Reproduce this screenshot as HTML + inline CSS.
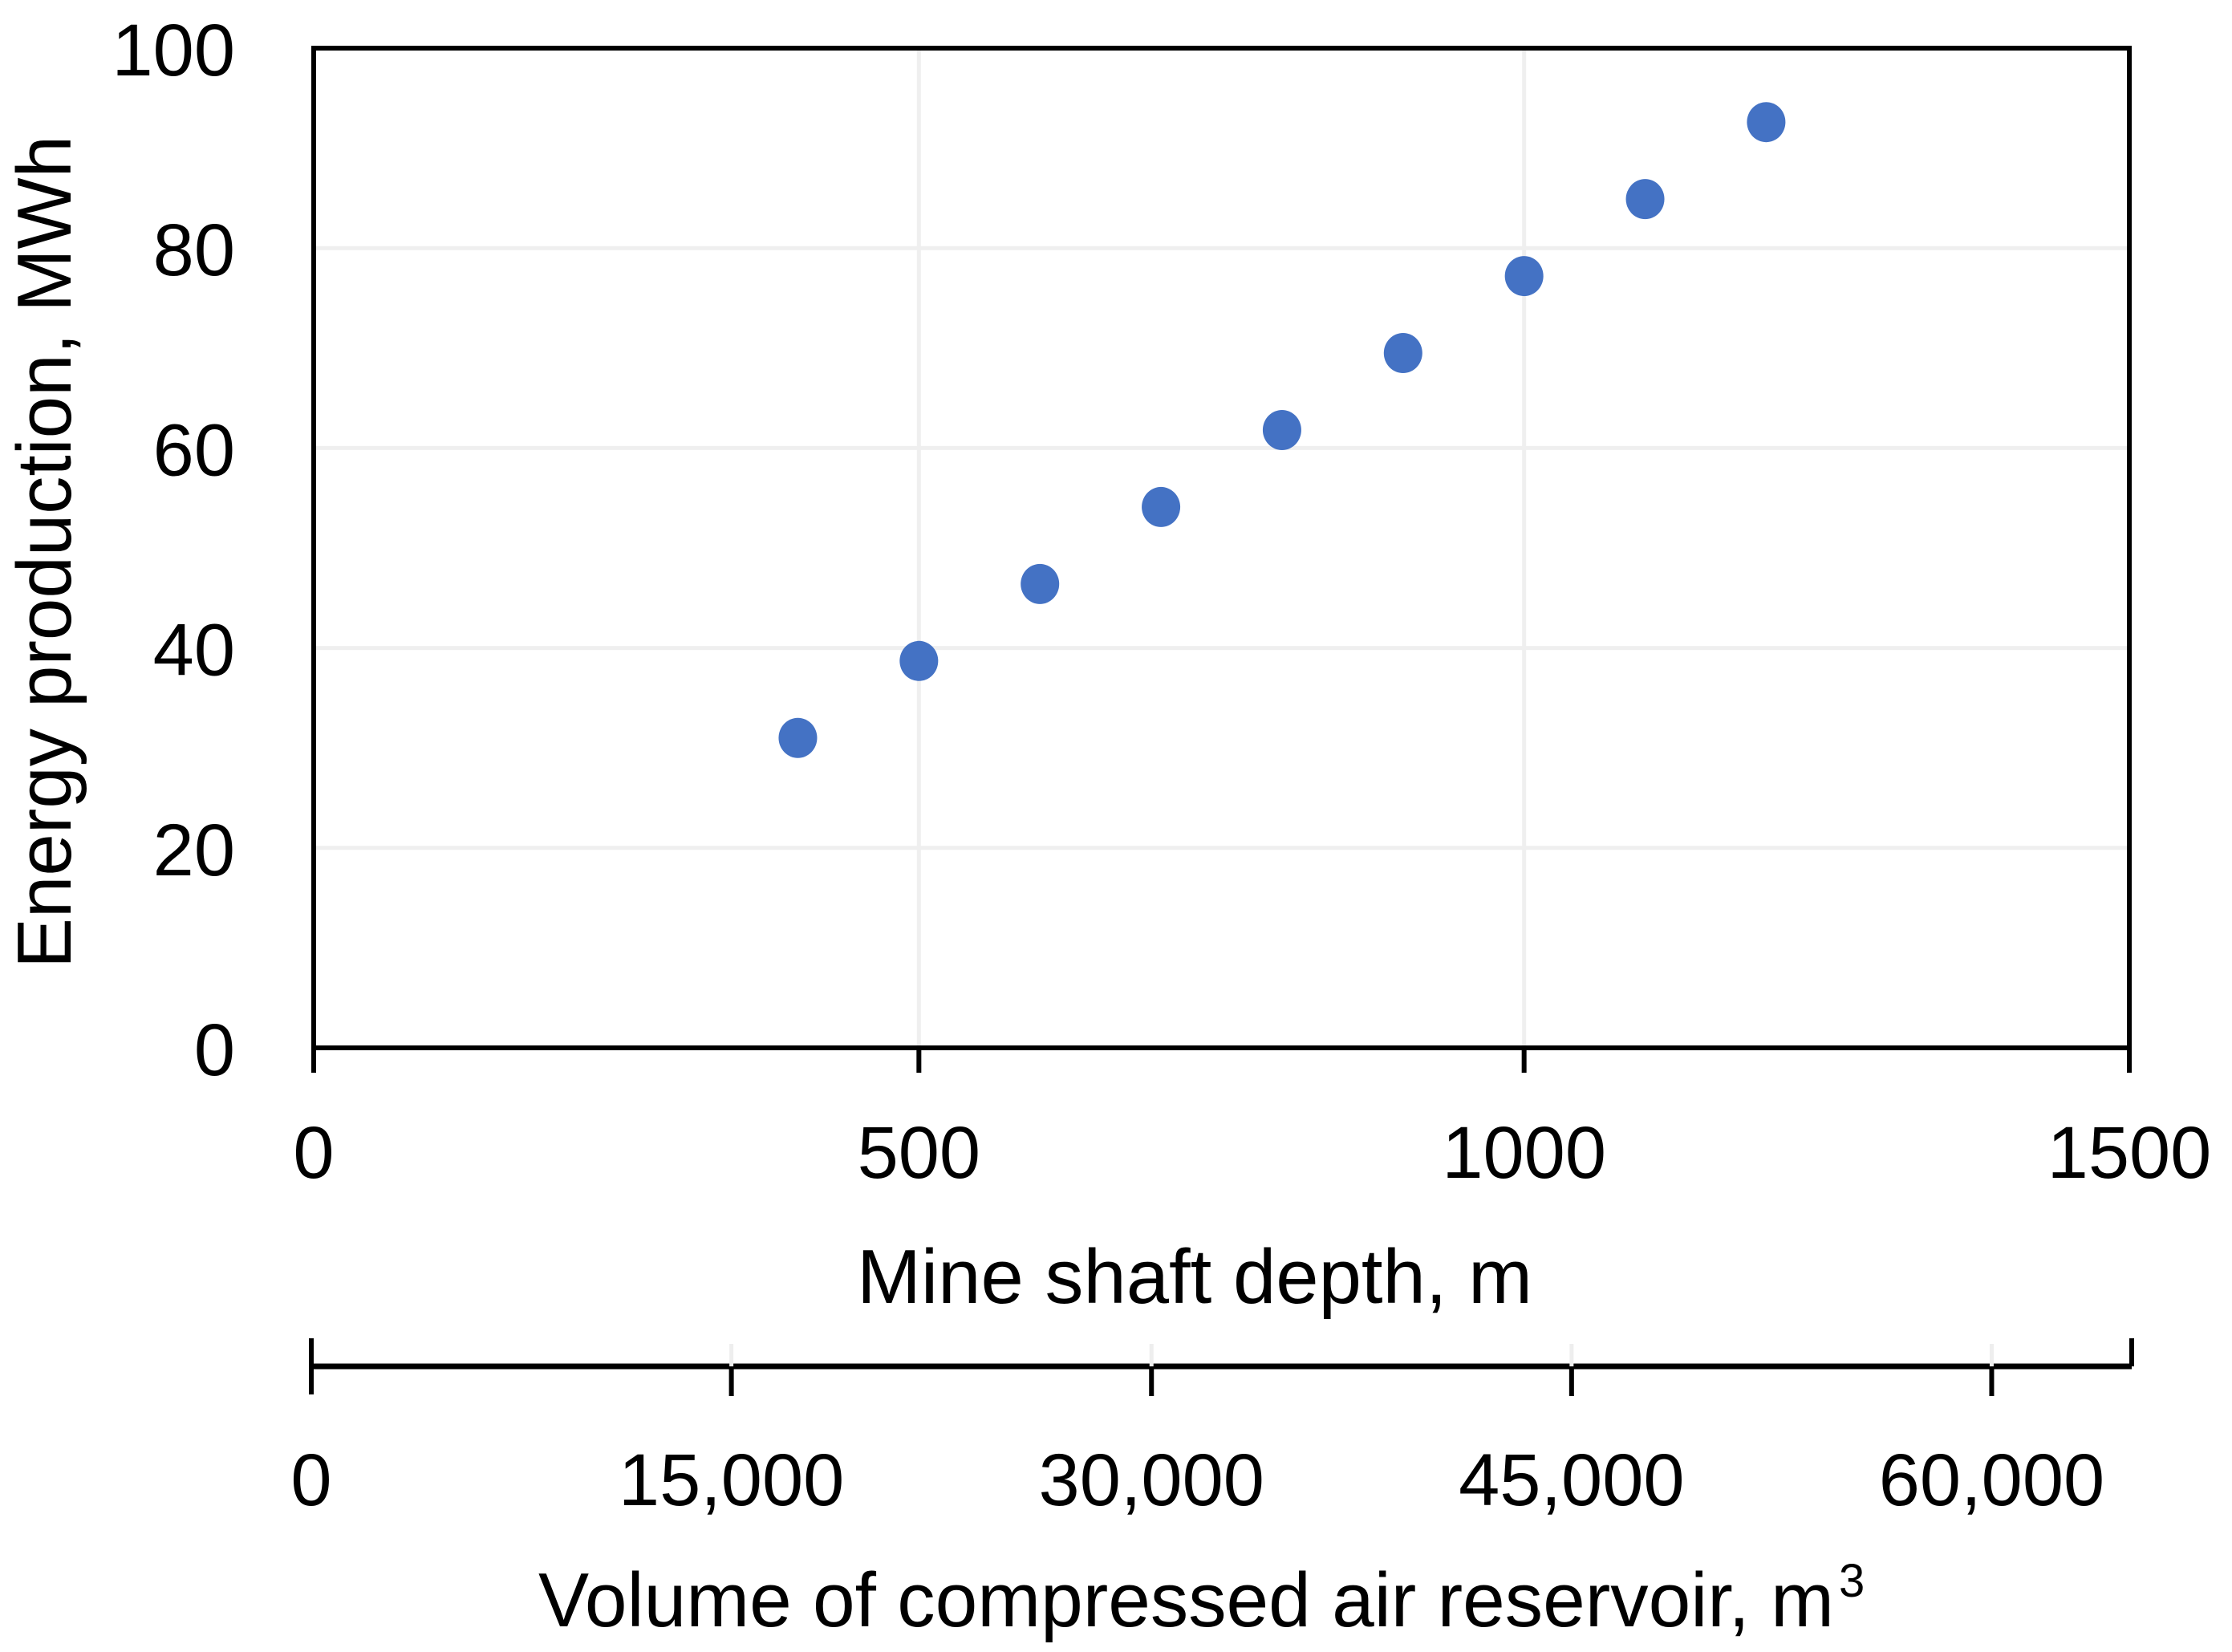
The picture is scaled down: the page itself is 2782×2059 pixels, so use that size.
<!DOCTYPE html>
<html><head><meta charset="utf-8"><style>
html,body{margin:0;padding:0;background:#fff}
svg{display:block}
text{font-family:"Liberation Sans",sans-serif;fill:#000}
</style></head><body>
<svg id="chart" width="2782" height="2059" viewBox="0 0 2782 2059" xmlns="http://www.w3.org/2000/svg">
<g id="grid"></g>
<g id="axes"></g>
<g id="points"></g>
<g id="labels"></g>
<text x="1489" y="1624" font-size="96" text-anchor="middle" textLength="842" lengthAdjust="spacingAndGlyphs">Mine shaft depth, m</text>
<text x="671" y="2027" font-size="96" textLength="1615" lengthAdjust="spacingAndGlyphs">Volume of compressed air reservoir, m</text>
<text x="2292" y="1990" font-size="58">3</text>
<text transform="translate(88,688) rotate(-90)" font-size="96" text-anchor="middle" textLength="1038" lengthAdjust="spacingAndGlyphs">Energy production, MWh</text>
</svg>
<script>
const depths = [400, 500, 600, 700, 800, 900, 1000, 1100, 1200];
const energy = [31, 38.7, 46.4, 54.1, 61.8, 69.5, 77.2, 84.9, 92.6];
const xTicks = [0, 500, 1000, 1500];
const yTicks = [0, 20, 40, 60, 80, 100];
const volTicks = [0, 15000, 30000, 45000, 60000];
const volTickLabels = ["0", "15,000", "30,000", "45,000", "60,000"];

const NS = "http://www.w3.org/2000/svg";
const L = 391, R = 2654, T = 60, B = 1306;
const xS = v => L + (v - 0) / 1500 * (R - L);
const yS = v => B - v / 100 * (B - T);
const vL = 388, vR = 2657, vMax = 65000, vY = 1703;
const vS = v => vL + v / vMax * (vR - vL);

function mk(tag, attrs, parent) {
  const e = document.createElementNS(NS, tag);
  for (const k in attrs) e.setAttribute(k, attrs[k]);
  parent.appendChild(e);
  return e;
}
const grid = document.getElementById('grid');
const axes = document.getElementById('axes');
const pts = document.getElementById('points');
const labels = document.getElementById('labels');

yTicks.forEach(t => {
  if (t > 0 && t < 100) {
    const g = mk('line', {x1: L, x2: R, y1: yS(t), y2: yS(t), stroke: '#efefef', 'stroke-width': 5}, grid);
    
    
  }
  const tx = mk('text', {x: 293, y: yS(t) + 34, 'font-size': 92, 'text-anchor': 'end'}, labels);
  tx.textContent = t;
  
  
});
xTicks.forEach(t => {
  if (t > 0 && t < 1500) {
    const g = mk('line', {x1: xS(t), x2: xS(t), y1: T, y2: B, stroke: '#efefef', 'stroke-width': 5}, grid);
    
    
  }
  const tk = mk('line', {x1: xS(t), x2: xS(t), y1: B, y2: 1337, stroke: '#000', 'stroke-width': 6}, axes);
  
  
  const tx = mk('text', {x: xS(t), y: 1468, 'font-size': 92, 'text-anchor': 'middle'}, labels);
  tx.textContent = t;
  
  
});
const frame = mk('rect', {x: L, y: T, width: R - L, height: B - T, fill: 'none', stroke: '#000', 'stroke-width': 6}, axes);



const vLine = mk('line', {x1: vL, x2: vR, y1: vY, y2: vY, stroke: '#000', 'stroke-width': 7}, axes);


const endL = mk('line', {x1: vL, x2: vL, y1: 1668, y2: 1738, stroke: '#000', 'stroke-width': 6}, axes);


const endR = mk('line', {x1: vR, x2: vR, y1: 1668, y2: vY, stroke: '#000', 'stroke-width': 6}, axes);


volTicks.forEach((t, i) => {
  if (t > 0) {
    const gt = mk('line', {x1: vS(t), x2: vS(t), y1: 1675, y2: vY, stroke: '#eeeeee', 'stroke-width': 5}, axes);
    
    
    const tk = mk('line', {x1: vS(t), x2: vS(t), y1: vY, y2: 1740, stroke: '#000', 'stroke-width': 6}, axes);
    
    
  }
  const tx = mk('text', {x: vS(t), y: 1876, 'font-size': 92, 'text-anchor': 'middle'}, labels);
  tx.textContent = volTickLabels[i];
  
  
});

depths.forEach((d, i) => {
  const c = mk('ellipse', {cx: xS(d), cy: yS(energy[i]), rx: 24, ry: 25, fill: '#4472c4'}, pts);
  
  
});
</script>
</body></html>
